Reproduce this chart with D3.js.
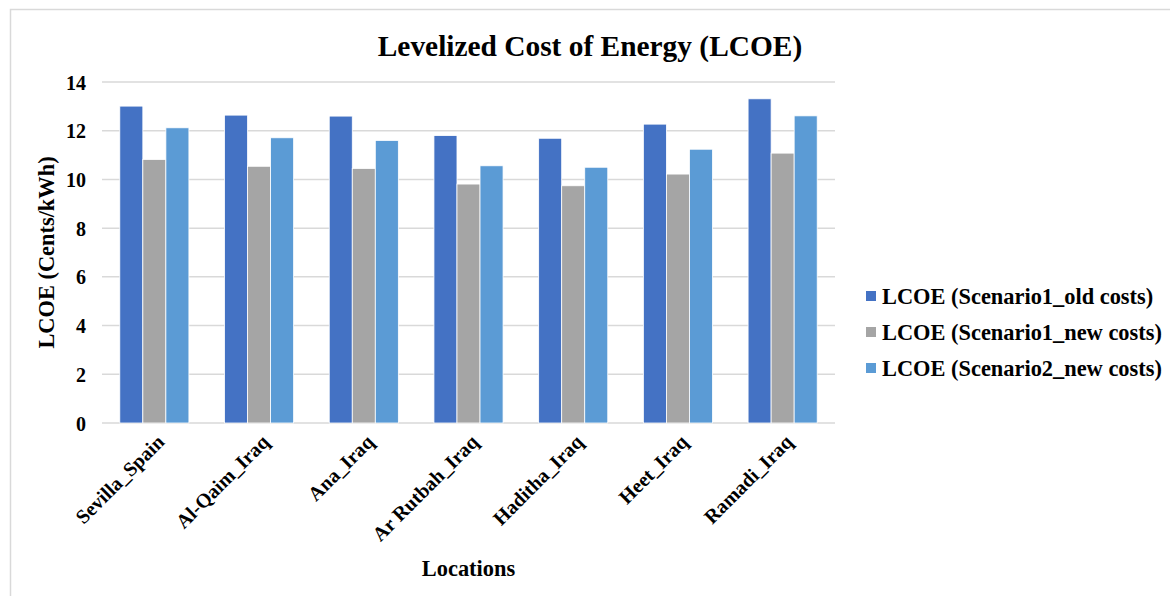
<!DOCTYPE html>
<html>
<head>
<meta charset="utf-8">
<script src="https://cdn.jsdelivr.net/npm/d3@7"></script>
<style>
  html, body { margin: 0; padding: 0; background: #ffffff; }
  svg { display: block; }
  text { font-family: "Liberation Serif", "Times New Roman", serif; font-weight: bold; fill: #000; }
</style>
</head>
<body>
<svg id="chart" width="1170" height="596"></svg>
<script>
// LCOE per location (cents/kWh)
const locations = ["Sevilla_Spain", "Al-Qaim_Iraq", "Ana_Iraq", "Ar Rutbah_Iraq", "Haditha_Iraq", "Heet_Iraq", "Ramadi_Iraq"];
const seriesNames = ["LCOE (Scenario1_old costs)", "LCOE (Scenario1_new costs)", "LCOE (Scenario2_new costs)"];
const scenario1Old = [13.01, 12.64, 12.60, 11.80, 11.69, 12.27, 13.31];
const scenario1New = [10.82, 10.54, 10.45, 9.81, 9.74, 10.22, 11.08];
const scenario2New = [12.12, 11.71, 11.60, 10.56, 10.50, 11.24, 12.61];
const yTicks = [0, 2, 4, 6, 8, 10, 12, 14];
const seriesColors = ["#4472C4", "#A5A5A5", "#5B9BD5"];

const seriesValues = [scenario1Old, scenario1New, scenario2New];

const svg = d3.select("#chart");

// chart area frame
svg.append("rect")
  .attr("x", 10.5).attr("y", 9.5)
  .attr("width", 1300).attr("height", 700)
  .attr("fill", "none").attr("stroke", "#d9d9d9").attr("stroke-width", 1.5);

const plot = { left: 102, right: 835, top: 82, bottom: 423 };

const x0 = d3.scaleBand().domain(locations).range([plot.left, plot.right]).paddingInner(0.34).paddingOuter(0.17);
const x1 = d3.scaleBand().domain(d3.range(seriesNames.length)).range([0, x0.bandwidth()]);
const y = d3.scaleLinear().domain([0, 14]).range([plot.bottom, plot.top]);

// horizontal gridlines
svg.append("g")
  .selectAll("line")
  .data(yTicks)
  .join("line")
  .attr("x1", plot.left).attr("x2", plot.right)
  .attr("y1", d => y(d)).attr("y2", d => y(d))
  .attr("stroke", "#d9d9d9").attr("stroke-width", 1.5);

// y axis labels
const yAxis = d3.axisLeft(y).tickValues(yTicks).tickSize(0).tickPadding(0).tickFormat(d3.format("d"));
const yg = svg.append("g").attr("transform", `translate(${plot.left - 16},0)`).call(yAxis);
yg.select(".domain").remove();
yg.selectAll("text")
  .attr("font-size", 20).attr("dy", "0.35em")
  .style("font-family", '"Liberation Serif", serif').style("font-weight", "bold").style("fill", "#000");

// bars
const groups = svg.append("g")
  .selectAll("g")
  .data(locations)
  .join("g")
  .attr("transform", d => `translate(${x0(d)},0)`);

groups.selectAll("rect")
  .data((loc, i) => seriesValues.map((vals, s) => ({ s, v: vals[i] })))
  .join("rect")
  .attr("x", d => x1(d.s))
  .attr("width", x1.bandwidth())
  .attr("y", d => y(d.v))
  .attr("height", d => y(0) - y(d.v))
  .attr("fill", d => seriesColors[d.s])
  .attr("stroke", "#ffffff").attr("stroke-width", 0.8);

// rotated category labels
const xAxis = d3.axisBottom(x0).tickSize(0).tickPadding(0);
const xg = svg.append("g").attr("transform", `translate(0,${plot.bottom + 16})`).call(xAxis);
xg.select(".domain").remove();
xg.selectAll("text")
  .attr("font-size", 20)
  .attr("text-anchor", "end")
  .attr("dy", "0.3em")
  .attr("transform", "translate(7,0) rotate(-45)")
  .style("font-family", '"Liberation Serif", serif').style("font-weight", "bold").style("fill", "#000");

// titles
svg.append("text")
  .attr("x", 590).attr("y", 56)
  .attr("text-anchor", "middle").attr("font-size", 29.4)
  .text("Levelized Cost of Energy (LCOE)");

svg.append("text")
  .attr("x", (plot.left + plot.right) / 2).attr("y", 576)
  .attr("text-anchor", "middle").attr("font-size", 22.4)
  .text("Locations");

svg.append("text")
  .attr("transform", `translate(54,${(plot.top + plot.bottom) / 2}) rotate(-90)`)
  .attr("text-anchor", "middle").attr("font-size", 22.4)
  .text("LCOE (Cents/kWh)");

// legend
const legend = svg.append("g").attr("transform", "translate(866,296)");
const items = legend.selectAll("g")
  .data(seriesNames)
  .join("g")
  .attr("transform", (d, i) => `translate(0,${i * 36})`);
items.append("rect")
  .attr("x", 0).attr("y", -5).attr("width", 10).attr("height", 10)
  .attr("fill", (d, i) => seriesColors[i]);
items.append("text")
  .attr("x", 16).attr("y", 0).attr("dy", "0.35em")
  .attr("font-size", 22.4)
  .text(d => d);
</script>
</body>
</html>
